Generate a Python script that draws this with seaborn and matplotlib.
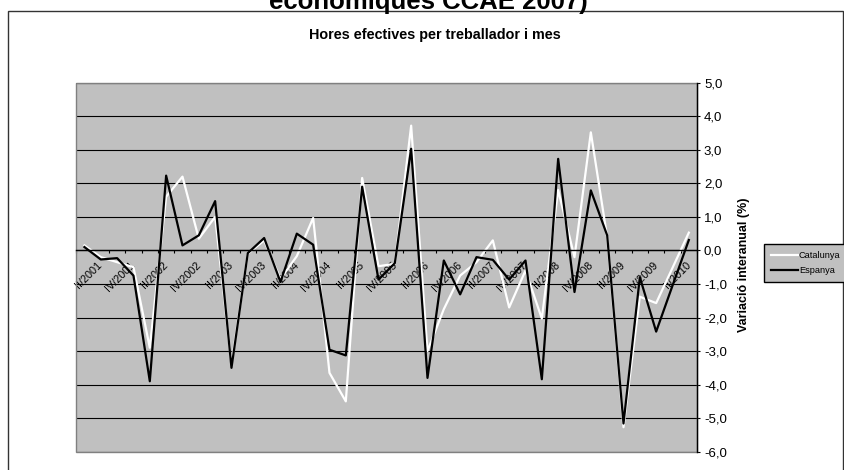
import numpy as np
import pandas as pd
import matplotlib
matplotlib.use("Agg")
import matplotlib.pyplot as plt
import seaborn as sns
from matplotlib.patches import Rectangle
from matplotlib.lines import Line2D
from matplotlib.ticker import FuncFormatter

plt.rcParams['font.family'] = ['Liberation Sans', 'DejaVu Sans']

quarters = ["I/2001", "II/2001", "III/2001", "IV/2001",
            "I/2002", "II/2002", "III/2002", "IV/2002",
            "I/2003", "II/2003", "III/2003", "IV/2003",
            "I/2004", "II/2004", "III/2004", "IV/2004",
            "I/2005", "II/2005", "III/2005", "IV/2005",
            "I/2006", "II/2006", "III/2006", "IV/2006",
            "I/2007", "II/2007", "III/2007", "IV/2007",
            "I/2008", "II/2008", "III/2008", "IV/2008",
            "I/2009", "II/2009", "III/2009", "IV/2009",
            "I/2010", "II/2010"]

catalunya = [0.15, -0.2, -0.35, -0.5, -2.9, 1.6, 2.2, 0.35,
             1.0, -3.4, -0.1, 0.3, -0.85, -0.17, 0.97, -3.65,
             -4.5, 2.16, -0.47, -0.4, 3.72, -3.0, -1.75, -0.75,
             -0.35, 0.3, -1.7, -0.6, -2.03, 1.8, -0.2, 3.52,
             0.4, -5.27, -1.38, -1.57, -0.52, 0.53]

espanya = [0.1, -0.27, -0.23, -0.75, -3.9, 2.23, 0.15, 0.45,
           1.47, -3.5, -0.08, 0.37, -0.94, 0.5, 0.17, -2.96,
           -3.13, 1.9, -0.87, -0.38, 3.03, -3.8, -0.3, -1.31,
           -0.2, -0.28, -0.87, -0.3, -3.84, 2.73, -1.24, 1.79,
           0.45, -5.16, -0.8, -2.42, -1.05, 0.31]

series_names = ["Catalunya", "Espanya"]
yticks = [-6, -5, -4, -3, -2, -1, 0, 1, 2, 3, 4, 5]

n = len(quarters)
df = pd.DataFrame({
    "idx": list(range(n)) * 2,
    "val": catalunya + espanya,
    "serie": [series_names[0]] * n + [series_names[1]] * n,
})

W, H = 845, 470
fig = plt.figure(figsize=(W / 100, H / 100), dpi=100)
fig.patch.set_facecolor("white")

ax = fig.add_axes([76.3 / W, 1 - 451.7 / H, (697 - 76.3) / W, 369 / H])
ax.set_facecolor("#C0C0C0")

palette = {"Catalunya": "white", "Espanya": "black"}
sns.lineplot(data=df, x="idx", y="val", hue="serie", palette=palette,
             hue_order=series_names, linewidth=1.6, ax=ax, legend=False,
             sort=False)

ax.set_xlim(-0.5, n - 0.5)
ax.set_ylim(-6, 5)
ax.set_xlabel("")
ax.set_ylabel("")

# y axis on the right
ax.yaxis.tick_right()
ax.set_yticks(yticks)
ax.yaxis.set_major_formatter(FuncFormatter(lambda v, p: f"{v:.1f}".replace(".", ",")))
ax.tick_params(axis="y", direction="out", length=2.5, width=0.8, pad=2.5,
               labelsize=9.5, colors="black")
ax.grid(axis="y", color="black", linewidth=0.8)
ax.grid(axis="x", visible=False)
ax.set_axisbelow(True)

for s in ["left", "top"]:
    ax.spines[s].set_visible(False)
ax.spines["right"].set_color("black")
ax.spines["right"].set_linewidth(1.0)
ax.spines["bottom"].set_position(("data", 0))
ax.spines["bottom"].set_color("black")
ax.spines["bottom"].set_linewidth(1.0)

border = Rectangle((0, 0), 1, 1, transform=ax.transAxes, fill=False,
                   edgecolor="#808080", linewidth=1.0, clip_on=False, zorder=0.6)
ax.add_patch(border)

# x axis: tick marks between categories, labels every other category
label_idx = list(range(1, n, 2))
ax.set_xticks(label_idx)
ax.set_xticklabels([quarters[i] for i in label_idx])
ax.set_xticks(np.arange(-0.5, n, 1), minor=True)
ax.tick_params(axis="x", which="major", length=0, pad=9.5, labelsize=7.8)
ax.tick_params(axis="x", which="minor", direction="out", length=2.5, width=0.8,
               colors="black")
for lbl in ax.get_xticklabels():
    lbl.set_rotation(45)
    lbl.set_ha("right")
    lbl.set_va("center")
    lbl.set_rotation_mode("anchor")

# texts
fig.text(428 / W, 1 - 9.5 / H, "econòmiques CCAE 2007)", fontsize=18.5,
         fontweight="bold", ha="center", va="baseline")
fig.text(435 / W, 1 - 35 / H, "Hores efectives per treballador i mes",
         fontsize=10.4, fontweight="bold", ha="center", va="center")
fig.text(744 / W, 1 - 265 / H, "Variació interanual (%)", rotation=90,
         fontsize=9, fontweight="bold", ha="center", va="center")

# outer chart border
fig.add_artist(Rectangle((8 / W, -0.05), (843 - 8) / W, 1 - 11 / H + 0.05,
                         transform=fig.transFigure, fill=False,
                         edgecolor="#333333", linewidth=1.0))

# legend
handles = [Line2D([], [], color=palette[s], linewidth=1.6) for s in series_names]
leg = fig.legend(handles, series_names, loc="upper left",
                 bbox_to_anchor=(764 / W, 1 - 244 / H), fontsize=6.6,
                 frameon=True, facecolor="#C0C0C0", edgecolor="black",
                 fancybox=False, framealpha=1, handlelength=2.9,
                 handletextpad=0.1, borderpad=0.8, labelspacing=0.6,
                 borderaxespad=0)
leg.get_frame().set_linewidth(1.0)

fig.savefig("out.png", dpi=100)
